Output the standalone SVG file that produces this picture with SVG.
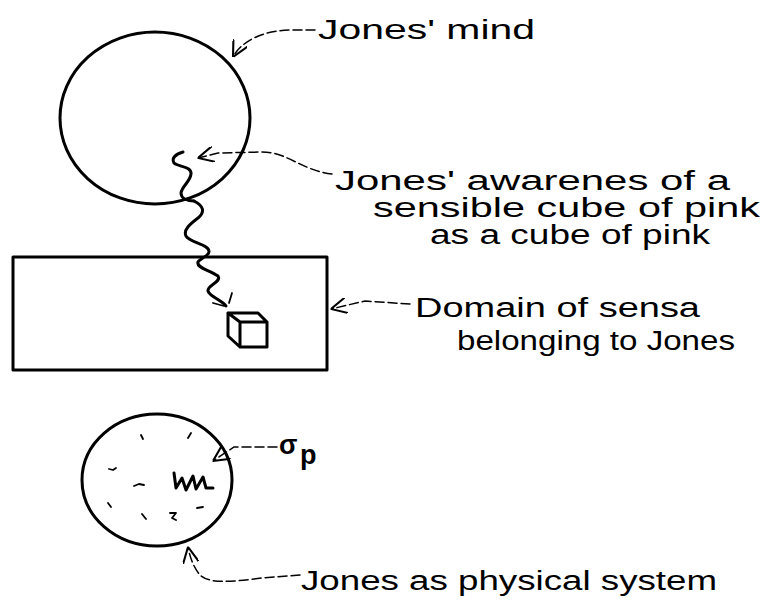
<svg xmlns="http://www.w3.org/2000/svg" width="775" height="604" viewBox="0 0 775 604">
<style>
.ink{fill:none;stroke:#000;stroke-width:3;stroke-linecap:round;stroke-linejoin:round}
.thin{fill:none;stroke:#000;stroke-width:1.8;stroke-linecap:round;stroke-linejoin:round}
.conn{fill:none;stroke:#000;stroke-width:1.5;stroke-dasharray:9 4;stroke-linecap:round}
.lbl{font-family:"Liberation Sans","DejaVu Sans",sans-serif;font-size:27px;fill:#000}
</style>
<defs>
<marker id="arr" viewBox="0 0 10 10" refX="10" refY="5" markerWidth="16" markerHeight="16" markerUnits="userSpaceOnUse" orient="auto">
<path d="M0,0 L10,5 L0,10" fill="none" stroke="#000" stroke-width="1.3"/>
</marker>
</defs>
<rect width="775" height="604" fill="#fff"/>

<g id="mind">
<ellipse class="ink" cx="155" cy="118" rx="95" ry="86"/>
<text class="lbl" x="318" y="39" textLength="217" lengthAdjust="spacingAndGlyphs">Jones' mind</text>
</g>

<g id="awareness">
<path class="ink" d="M183,152 C176,154 171,158 174,163 C178,167 192,166 191,174 C190,182 182,186 181,193 C181,199 188,201 194,201"/>
<text class="lbl" x="335" y="190" textLength="395" lengthAdjust="spacingAndGlyphs">Jones' awarenes of a</text>
<text class="lbl" x="373" y="217" textLength="387" lengthAdjust="spacingAndGlyphs">sensible cube of pink</text>
<text class="lbl" x="430" y="244" textLength="280" lengthAdjust="spacingAndGlyphs">as a cube of pink</text>
</g>

<g id="domain">
<rect class="ink" x="13" y="257" width="314" height="113"/>
<path class="ink" d="M194,201 C204,206 205,212 198,218 C190,224 183,230 186,236 C190,243 208,244 209,251 C210,256 200,258 198,262 C196,268 210,270 218,276 C222,282 207,285 208,291 C210,297 222,300 226,306"/>
<path class="thin" d="M232,293 L229,303 M213,303 L224,306"/>
<g id="cube">
<path class="ink" d="M240,322 L267,322 L267,347 L240,347 Z M228,313 L258,313 L267,322 M228,313 L240,322 M228,313 L228,336 L240,347"/>
</g>
<text class="lbl" x="415" y="317" textLength="285" lengthAdjust="spacingAndGlyphs">Domain of sensa</text>
<text class="lbl" x="457" y="350" textLength="278" lengthAdjust="spacingAndGlyphs">belonging to Jones</text>
</g>

<g id="physical">
<ellipse class="ink" cx="157" cy="480" rx="75" ry="66"/>
<g class="thin">
<path d="M141,435 L143,439 M191,433 L188,438 M109,469 L113,470 L116,468 M134,486 L139,484 L144,485 M108,503 L111,507 M142,514 L146,519 M170,513 L176,513 L172,518 L176,520 M197,508 L203,507"/>
</g>
<path class="ink" d="M174,473 L176,488 L182,478 L186,490 L193,476 L196,489 L203,477 L206,488 L213,488"/>
<text class="lbl" x="279" y="454" font-size="30" font-weight="bold">σ</text>
<text class="lbl" x="300" y="464" font-size="20" font-weight="bold">p</text>
<text class="lbl" x="301" y="590" textLength="416" lengthAdjust="spacingAndGlyphs">Jones as physical system</text>
</g>

<g id="connectors">
<path class="conn" d="M315,30 L292,30 C265,30 242,40 233,57" marker-end="url(#arr)"/>
<path class="conn" d="M332,174 C300,170 288,152 262,152 L218,153 L198,158" marker-end="url(#arr)"/>
<path class="conn" d="M410,304 L365,301 L331,309" marker-end="url(#arr)"/>
<path class="conn" d="M277,447 L234,447 L213,461" marker-end="url(#arr)"/>
<path class="conn" d="M300,575 L262,578 C230,582 210,584 200,575 C194,568 190,558 188,547" marker-end="url(#arr)"/>
</g>
</svg>
